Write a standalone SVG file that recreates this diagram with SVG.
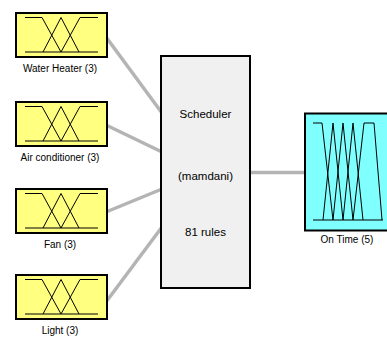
<svg xmlns="http://www.w3.org/2000/svg" xmlns:xlink="http://www.w3.org/1999/xlink" width="387" height="338" viewBox="0 0 387 338">
  <style>
    .in { fill: #ffff80; stroke: #000; stroke-width: 2; }
    .out { fill: #80ffff; stroke: #000; stroke-width: 2; }
    .fis { fill: #f0f0f0; stroke: #000; stroke-width: 2; }
    .mf { fill: none; stroke: #000; stroke-width: 1; }
    .wire { stroke: #b4b4b4; stroke-width: 3.5; fill: none; }
    .lbl { font-family: "Liberation Sans", Arial, sans-serif; font-size: 10px; fill: #000; text-anchor: middle; }
    .fistxt { font-family: "Liberation Sans", Arial, sans-serif; font-size: 11.5px; fill: #000; text-anchor: middle; }
  </style>
  <defs>
    <!-- three-MF input icon (box 91x44) -->
    <g id="mf3">
      <rect class="in" x="0" y="0" width="91" height="44"/>
      <path class="mf" d="M9,4.5 H26 L45,39"/>
      <path class="mf" d="M27,39 L45,4.5 L63,39"/>
      <path class="mf" d="M45,39 L64,4.5 H82"/>
      <path class="mf" d="M9,39 H82"/>
    </g>
  </defs>

  <!-- connectors -->
  <g id="connectors">
    <line class="wire" x1="106" y1="37" x2="162" y2="113"/>
    <line class="wire" x1="106" y1="125" x2="162" y2="152"/>
    <line class="wire" x1="106" y1="212" x2="162" y2="189"/>
    <line class="wire" x1="106" y1="302" x2="162" y2="227"/>
    <line class="wire" x1="250" y1="172.5" x2="305" y2="172.5"/>
  </g>

  <!-- inputs -->
  <g id="water-heater">
    <use xlink:href="#mf3" href="#mf3" transform="translate(16,13)"/>
    <text class="lbl" x="60" y="71.5">Water Heater (3)</text>
  </g>
  <g id="air-conditioner">
    <use xlink:href="#mf3" href="#mf3" transform="translate(16,102)"/>
    <text class="lbl" x="60" y="161">Air conditioner (3)</text>
  </g>
  <g id="fan">
    <use xlink:href="#mf3" href="#mf3" transform="translate(16,189)"/>
    <text class="lbl" x="60" y="248">Fan (3)</text>
  </g>
  <g id="light">
    <use xlink:href="#mf3" href="#mf3" transform="translate(16,275)"/>
    <text class="lbl" x="60" y="333.5">Light (3)</text>
  </g>

  <!-- inference system -->
  <g id="scheduler">
    <rect class="fis" x="161" y="56" width="89" height="232"/>
    <text class="fistxt" x="205.5" y="118">Scheduler</text>
    <text class="fistxt" x="205.5" y="180">(mamdani)</text>
    <text class="fistxt" x="205.5" y="236">81 rules</text>
  </g>

  <!-- output -->
  <g id="on-time">
    <g transform="translate(305,113.5)">
      <rect class="out" x="0" y="0" width="84" height="117"/>
      <path class="mf" d="M8,9.5 H17 L28,106.5"/>
      <path class="mf" d="M18,106.5 L28,9.5 L38,106.5"/>
      <path class="mf" d="M28,106.5 L38,9.5 L48,106.5"/>
      <path class="mf" d="M38,106.5 L48,9.5 L58,106.5"/>
      <path class="mf" d="M48,106.5 L59,9.5 H69 L77,106.5"/>
      <path class="mf" d="M8,106.5 H78"/>
    </g>
    <text class="lbl" x="347" y="243">On Time (5)</text>
  </g>
</svg>
